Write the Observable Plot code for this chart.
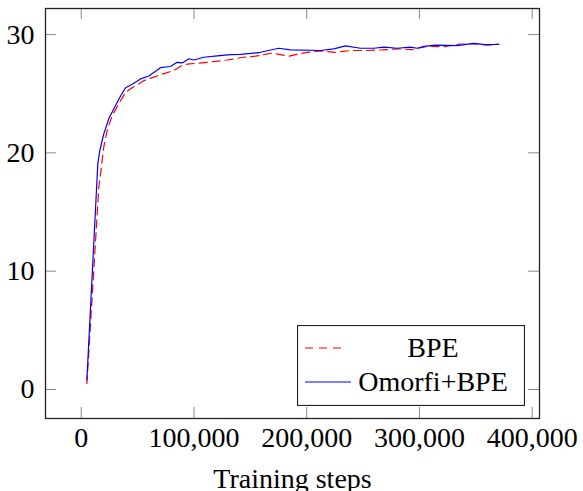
<!DOCTYPE html>
<html>
<head>
<meta charset="utf-8">
<script src="https://cdn.jsdelivr.net/npm/d3@7"></script>
<script src="https://cdn.jsdelivr.net/npm/@observablehq/plot@0.6"></script>
<style>
  html, body { margin: 0; padding: 0; background: #fff; }
  #wrap { position: relative; width: 583px; height: 491px; overflow: hidden; }
  #wrap text, #wrap svg { font-family: "Liberation Serif", "Times New Roman", Times, "DejaVu Serif", serif !important; }
</style>
</head>
<body>
<div id="wrap"></div>
<script>
const xTicks = [0, 100000, 200000, 300000, 400000];
const yTicks = [0, 10, 20, 30];

const bpeSteps = [5000, 15600, 17100, 20000, 23000, 27500, 33300, 39300, 45200, 55500, 70300, 82100, 89600, 94000, 111800, 129500, 144200, 154600, 169400, 184100, 197400, 212200, 225500, 238800, 253600, 267000, 280300, 293600, 306900, 321600, 336400, 348200, 360000, 370400];
const bpeBleu = [0.5, 17.1, 18.2, 20.5, 21.9, 23.15, 24.15, 25.1, 25.5, 26.1, 26.6, 26.96, 27.4, 27.5, 27.65, 27.85, 28.08, 28.17, 28.43, 28.17, 28.45, 28.62, 28.5, 28.65, 28.65, 28.7, 28.79, 28.73, 29.0, 28.98, 29.2, 29.2, 29.13, 29.18];

const omorfiSteps = [5000, 14700, 16500, 20000, 24500, 30400, 34900, 39300, 45200, 52600, 60000, 65900, 70300, 79200, 85000, 89600, 95500, 99900, 108700, 120600, 132400, 141300, 150200, 159000, 175300, 185600, 212200, 224000, 234400, 247700, 259500, 268400, 280300, 292000, 298000, 303900, 314200, 333500, 348200, 360000, 370400];
const omorfiBleu = [0.8, 19.07, 20.2, 21.6, 22.9, 24.0, 24.8, 25.5, 25.8, 26.25, 26.5, 26.9, 27.2, 27.3, 27.65, 27.6, 27.95, 27.85, 28.08, 28.2, 28.3, 28.33, 28.4, 28.5, 28.84, 28.7, 28.65, 28.79, 29.04, 28.84, 28.84, 28.93, 28.84, 28.93, 28.84, 29.0, 29.1, 29.07, 29.26, 29.13, 29.18];

const bpe = bpeSteps.map((s, i) => ({step: s, bleu: bpeBleu[i]}));
const omorfi = omorfiSteps.map((s, i) => ({step: s, bleu: omorfiBleu[i]}));

const W = 583, H = 491, mL = 45, mR = 44, mT = 8, mB = 73;
const pw = W - mL - mR, ph = H - mT - mB, tick = 11;
const tickColor = "#8a8a8a";
const font = "Liberation Serif, Times New Roman, Times, DejaVu Serif, serif";

const chart = Plot.plot({
  width: W, height: H,
  marginLeft: mL, marginRight: mR, marginTop: mT, marginBottom: mB,
  style: {fontFamily: font, fontSize: "28px", background: "white", color: "black", overflow: "visible"},
  x: {domain: [-31700, 406500]},
  y: {domain: [-2.45, 32.2]},
  marks: [
    Plot.ruleX(xTicks, {stroke: tickColor, strokeWidth: 1, insetTop: ph - tick}),
    Plot.ruleX(xTicks, {stroke: tickColor, strokeWidth: 1, insetBottom: ph - tick}),
    Plot.ruleY(yTicks, {stroke: tickColor, strokeWidth: 1, insetRight: pw - tick}),
    Plot.ruleY(yTicks, {stroke: tickColor, strokeWidth: 1, insetLeft: pw - tick}),
    Plot.line(bpe, {x: "step", y: "bleu", stroke: "red", strokeWidth: 1.2, strokeDasharray: "8,5"}),
    Plot.line(omorfi, {x: "step", y: "bleu", stroke: "blue", strokeWidth: 1.2}),
    Plot.frame({stroke: "#222", strokeWidth: 1.3}),
    Plot.axisX(xTicks, {tickSize: 0, tickPadding: 9, tickFormat: d3.format(","), label: null, fill: "black", fontFamily: font}),
    Plot.axisY(yTicks, {tickSize: 0, tickPadding: 11, label: null, fill: "black", fontFamily: font}),
    Plot.text(["Training steps"], {frameAnchor: "bottom", lineAnchor: "top", dy: 50, fill: "black", fontFamily: font})
  ]
});

const wrap = document.getElementById("wrap");
wrap.appendChild(chart);

// legend overlay
const ns = "http://www.w3.org/2000/svg";
const leg = document.createElementNS(ns, "svg");
leg.setAttribute("width", 228);
leg.setAttribute("height", 81);
leg.style.position = "absolute";
leg.style.left = "297px";
leg.style.top = "325px";
leg.innerHTML = `
  <rect x="0.5" y="0.5" width="227" height="80" fill="white" stroke="#222" stroke-width="1.2"/>
  <line x1="8" x2="48" y1="23" y2="23" stroke="red" stroke-width="1.2" stroke-dasharray="8,6"/>
  <line x1="8" x2="54" y1="57" y2="57" stroke="blue" stroke-width="1.2"/>
  <text x="136" y="32" text-anchor="middle" font-size="28" fill="black">BPE</text>
  <text x="136" y="66" text-anchor="middle" font-size="28" fill="black">Omorfi+BPE</text>`;
wrap.appendChild(leg);
</script>
</body>
</html>
